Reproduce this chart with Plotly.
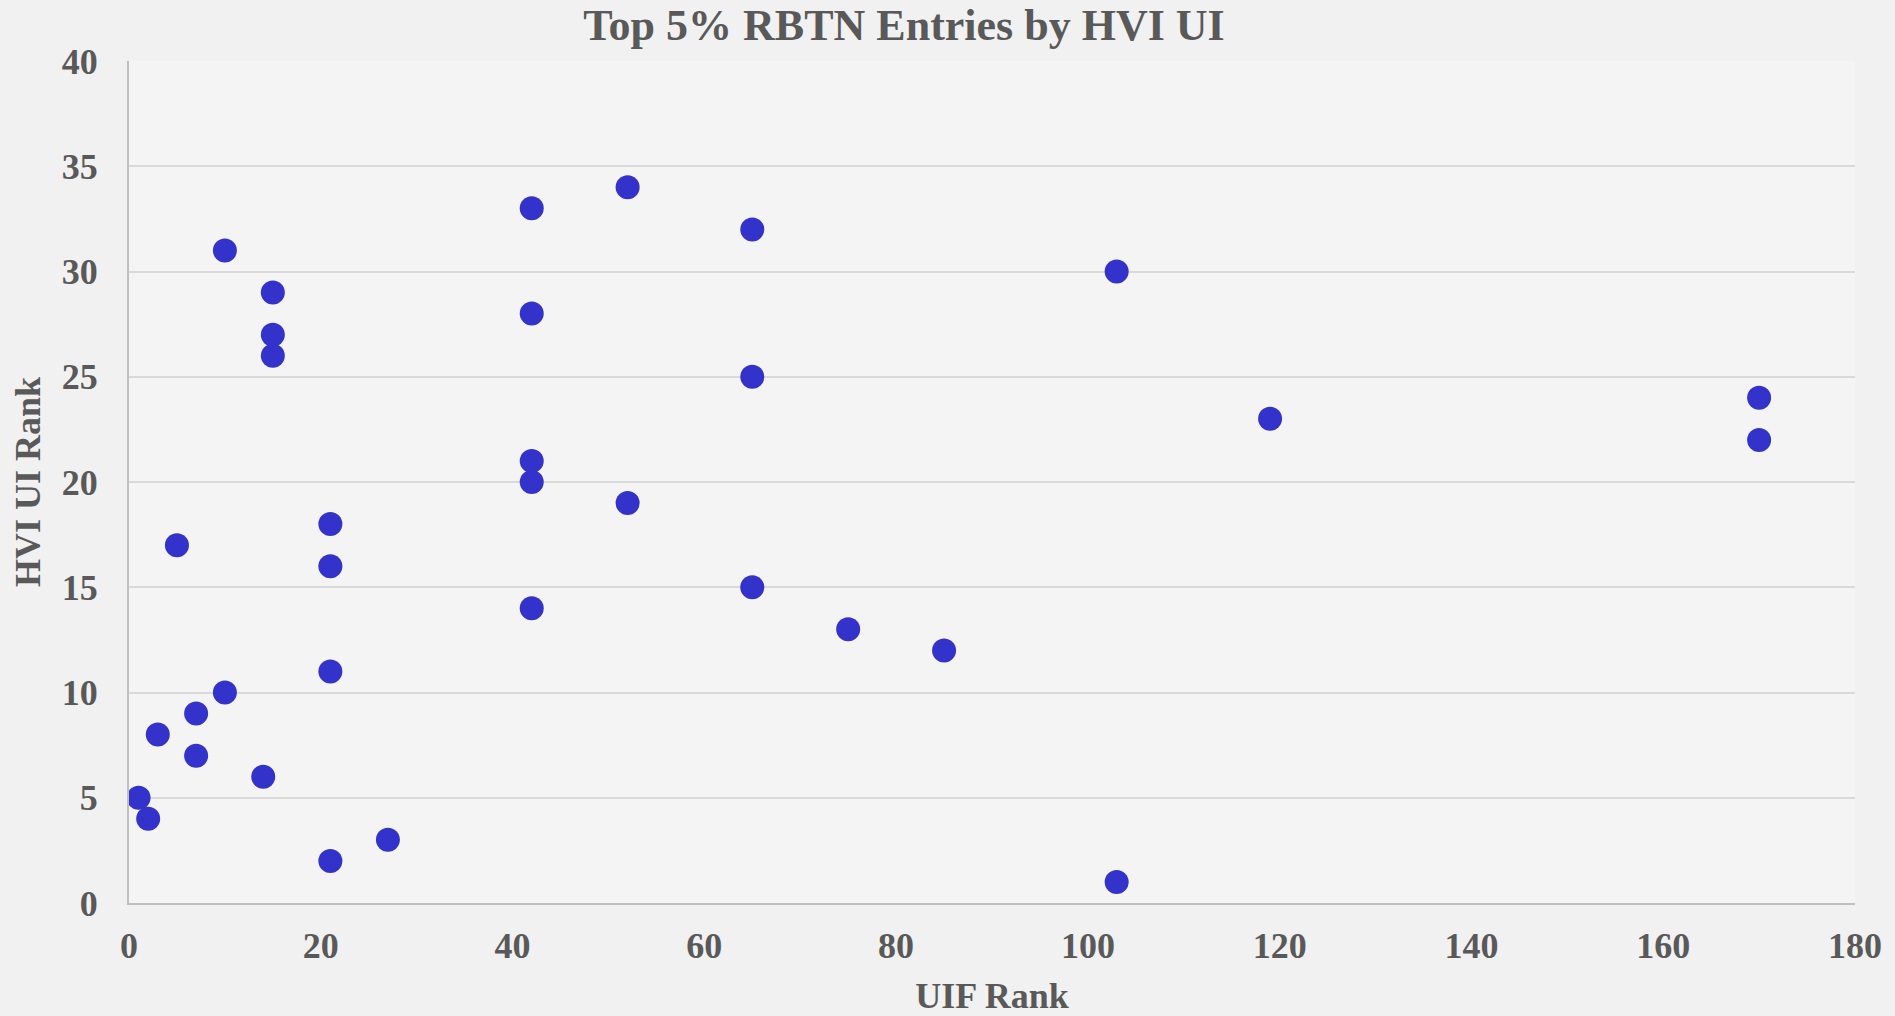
import plotly.graph_objects as go

# UIF rank vs HVI UI rank for the top 5% RBTN entries
uif_rank = [10, 15, 15, 15, 42, 52, 65, 42, 103, 65, 119, 170, 170, 42, 42, 52, 21,
            5, 21, 65, 42, 75, 85, 21, 10, 7, 3, 7, 14, 1, 2, 27, 21, 103]
hvi_ui_rank = [31, 29, 27, 26, 33, 34, 32, 28, 30, 25, 23, 24, 22, 21, 20, 19, 18,
               17, 16, 15, 14, 13, 12, 11, 10, 9, 8, 7, 6, 5, 4, 3, 2, 1]

x_ticks = [0, 20, 40, 60, 80, 100, 120, 140, 160, 180]
y_ticks = [0, 5, 10, 15, 20, 25, 30, 35, 40]

font_face = "Liberation Serif"
text_grey = "#595959"

fig = go.Figure(
    go.Scatter(
        x=uif_rank,
        y=hvi_ui_rank,
        mode="markers",
        marker=dict(size=24, color="#3333cc"),
        hoverinfo="x+y",
    )
)

fig.update_layout(
    width=1895,
    height=1016,
    margin=dict(l=129, r=40, t=61, b=113),
    paper_bgcolor="#f1f1f1",
    plot_bgcolor="#f4f4f4",
    showlegend=False,
    font=dict(family=font_face, color=text_grey, size=36, weight="bold"),
    title=dict(
        text="<b>Top 5% RBTN Entries by HVI UI</b>",
        x=904 / 1895,
        xanchor="center",
        xref="container",
        y=1 - 25 / 1016,
        yanchor="middle",
        font=dict(family=font_face, size=44, color=text_grey),
    ),
)

fig.update_xaxes(
    range=[0, 180],
    tickvals=x_ticks,
    automargin=False,
    showgrid=False,
    zeroline=False,
    showline=True,
    linecolor="#bfbfbf",
    linewidth=2,
    ticks="",
    ticklabelstandoff=10,
    tickfont=dict(family=font_face, size=36, color=text_grey, weight="bold"),
    title=dict(text="<b>UIF Rank</b>", standoff=20,
               font=dict(family=font_face, size=36, color=text_grey)),
)

fig.update_yaxes(
    range=[0, 40],
    tickvals=y_ticks,
    automargin=False,
    showgrid=True,
    gridcolor="#d9d9d9",
    gridwidth=2,
    zeroline=False,
    showline=True,
    linecolor="#bfbfbf",
    linewidth=2,
    ticks="",
    ticklabelstandoff=22,
    tickfont=dict(family=font_face, size=36, color=text_grey, weight="bold"),
    title=dict(text="<b>HVI UI Rank</b>", standoff=10,
               font=dict(family=font_face, size=36, color=text_grey)),
)

fig.write_html(
    "out.html",
    config={"displayModeBar": False},
    post_script="document.body.style.margin='0';",
)
